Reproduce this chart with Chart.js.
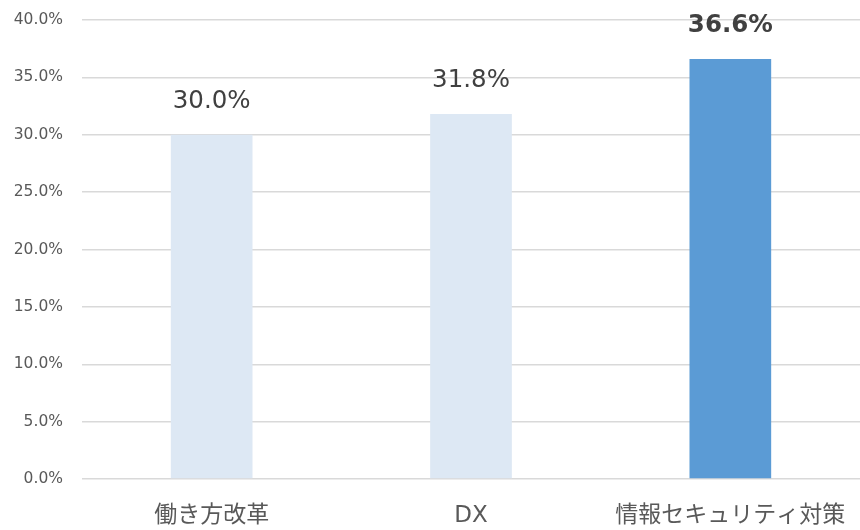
<!DOCTYPE html>
<html><head><meta charset="utf-8">
<script src="https://cdn.jsdelivr.net/npm/chart.js@4"></script>
<style>html,body{margin:0;padding:0;background:#fff;}canvas{display:block;}</style>
</head><body>
<canvas id="c" width="860" height="530"></canvas>
<script>
const categories = ["働き方改革", "DX", "情報セキュリティ対策"];
const values = [30.0, 31.8, 36.6];
const barColors = ["#dde8f4", "#dde8f4", "#5b9bd5"];
const labelBold = [false, false, true];

const dataLabels = {
  id: 'dataLabels',
  afterDatasetsDraw(chart) {
    const ctx = chart.ctx;
    const meta = chart.getDatasetMeta(0);
    ctx.save();
    ctx.fillStyle = '#404040';
    ctx.textAlign = 'center';
    ctx.textBaseline = 'alphabetic';
    meta.data.forEach((bar, i) => {
      ctx.font = (labelBold[i] ? 'bold ' : '') + '24.5px "DejaVu Sans", Verdana, sans-serif';
      ctx.fillText(values[i].toFixed(1) + '%', bar.x, bar.y - 27);
    });
    ctx.restore();
  }
};

new Chart(document.getElementById('c'), {
  type: 'bar',
  data: {
    labels: categories,
    datasets: [{ data: values, backgroundColor: barColors, barPercentage: 0.63, categoryPercentage: 0.5 }]
  },
  options: {
    responsive: false,
    animation: false,
    layout: { padding: { top: 20, right: -2, left: 0, bottom: 0 } },
    plugins: { legend: { display: false }, tooltip: { enabled: false } },
    scales: {
      x: {
        afterFit: s => { s.height = 51; s.paddingLeft = 0; s.paddingRight = 0; s.paddingTop = 0; s.paddingBottom = 0; },
        grid: { display: false, drawTicks: false },
        border: { display: false },
        ticks: { color: '#595959', maxRotation: 0, minRotation: 0, autoSkip: false,
          font: { family: '"DejaVu Sans", "Noto Sans CJK JP", sans-serif', size: 23 }, padding: 23 }
      },
      y: {
        min: 0, max: 40,
        afterFit: s => { s.width = 82; s.paddingTop = 0; s.paddingBottom = 0; },
        grid: { color: '#d9d9d9', lineWidth: 1.5, drawTicks: false },
        border: { display: false },
        ticks: { stepSize: 5, color: '#595959', padding: 19,
          font: { family: '"DejaVu Sans", Verdana, sans-serif', size: 15.5 },
          callback: v => v.toFixed(1) + '%' }
      }
    }
  },
  plugins: [dataLabels]
});
</script>
</body></html>
